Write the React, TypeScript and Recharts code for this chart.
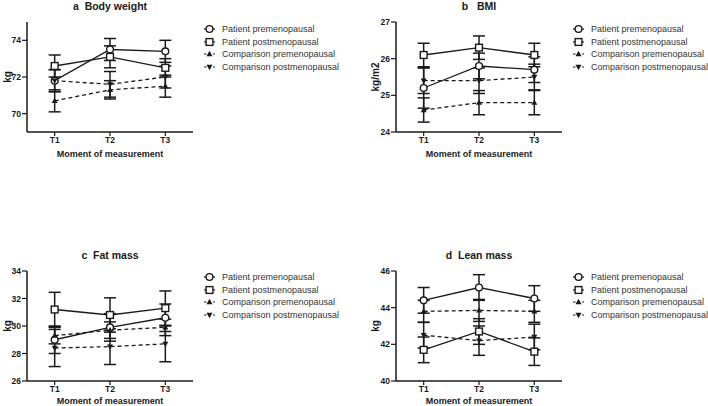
import React from 'react';
import { ComposedChart, Line, ErrorBar, XAxis, YAxis } from 'recharts';

const timepoints = [1, 2, 3];
const tickLabels = ['T1', 'T2', 'T3'];
const seriesNames = [
  'Patient premenopausal',
  'Patient postmenopausal',
  'Comparison premenopausal',
  'Comparison postmenopausal',
];

// a Body weight
const bwPatPre = [71.8, 73.5, 73.4];
const bwPatPreErr = [0.6, 0.6, 0.6];
const bwPatPost = [72.6, 73.1, 72.5];
const bwPatPostErr = [0.6, 0.6, 0.5];
const bwCmpPre = [70.7, 71.3, 71.5];
const bwCmpPreErr = [0.6, 0.5, 0.6];
const bwCmpPost = [71.8, 71.6, 72.0];
const bwCmpPostErr = [0.6, 0.7, 0.6];

// b BMI
const bmiPatPre = [25.2, 25.8, 25.7];
const bmiPatPreErr = [0.55, 0.35, 0.35];
const bmiPatPost = [26.1, 26.3, 26.1];
const bmiPatPostErr = [0.32, 0.32, 0.32];
const bmiCmpPre = [24.6, 24.8, 24.8];
const bmiCmpPreErr = [0.33, 0.33, 0.33];
const bmiCmpPost = [25.4, 25.4, 25.5];
const bmiCmpPostErr = [0.35, 0.35, 0.35];

// c Fat mass
const fmPatPre = [29.0, 29.9, 30.6];
const fmPatPreErr = [1.0, 1.0, 1.0];
const fmPatPost = [31.2, 30.8, 31.3];
const fmPatPostErr = [1.25, 1.25, 1.25];
const fmCmpPre = [29.3, 29.7, 29.9];
const fmCmpPreErr = [0.6, 0.6, 0.6];
const fmCmpPost = [28.4, 28.5, 28.7];
const fmCmpPostErr = [1.35, 1.3, 1.3];

// d Lean mass
const lmPatPre = [44.4, 45.1, 44.5];
const lmPatPreErr = [0.7, 0.7, 0.7];
const lmPatPost = [41.7, 42.7, 41.6];
const lmPatPostErr = [0.7, 0.7, 0.75];
const lmCmpPre = [43.8, 43.85, 43.8];
const lmCmpPreErr = [0.6, 0.6, 0.6];
const lmCmpPost = [42.5, 42.2, 42.4];
const lmCmpPostErr = [0.7, 0.8, 0.7];

const FONT = '"Liberation Sans", Arial, sans-serif';
const INK = '#1a1a1a';

function buildRows(pp, ppe, po, poe, cp, cpe, co, coe) {
  return timepoints.map((t, i) => ({
    t,
    pPre: pp[i], pPreErr: ppe[i],
    pPost: po[i], pPostErr: poe[i],
    cPre: cp[i], cPreErr: cpe[i],
    cPost: co[i], cPostErr: coe[i],
  }));
}

function Marker({ kind, cx, cy }) {
  if (kind === 'circle') {
    return <circle cx={cx} cy={cy} r={3.4} fill="#fff" stroke={INK} strokeWidth={1.4} />;
  }
  if (kind === 'square') {
    return <rect x={cx - 3.4} y={cy - 3.4} width={6.8} height={6.8} fill="#fff" stroke={INK} strokeWidth={1.4} />;
  }
  if (kind === 'up') {
    return <path d={`M${cx},${cy - 3.2} L${cx + 3},${cy + 2.2} L${cx - 3},${cy + 2.2} Z`} fill={INK} />;
  }
  return <path d={`M${cx},${cy + 3.2} L${cx + 3},${cy - 2.2} L${cx - 3},${cy - 2.2} Z`} fill={INK} />;
}

const kinds = ['circle', 'square', 'up', 'down'];
const keys = ['pPre', 'pPost', 'cPre', 'cPost'];

const dotFor = (kind) => (props) => (
  <g key={`${kind}-${props.index}`}>
    <Marker kind={kind} cx={props.cx} cy={props.cy} />
  </g>
);

function LegendBox({ left, top, gap }) {
  return (
    <div style={{ position: 'absolute', left, top, fontFamily: FONT, fontSize: 9, color: '#333' }}>
      {seriesNames.map((name, i) => (
        <div key={name} style={{ display: 'flex', alignItems: 'center', height: 12.5, whiteSpace: 'nowrap' }}>
          <svg width={11} height={10} style={{ marginRight: gap }}>
            <line x1={0} y1={5} x2={11} y2={5} stroke={INK} strokeWidth={1.2} strokeDasharray={i > 1 ? '2.5 2' : undefined} />
            <Marker kind={kinds[i]} cx={5.5} cy={5} />
          </svg>
          <span>{name}</span>
        </div>
      ))}
    </div>
  );
}

function Panel({ left, top, height, xAxisHeight, labelOffset, axisWidth, rightMargin, title, unit, unitOffset, data, domain, ticks, legendLeft, legendGap }) {
  return (
    <div style={{ position: 'absolute', left, top, width: 354, height }}>
      <div style={{ position: 'absolute', left: axisWidth, width: 166, top: 0, textAlign: 'center', fontFamily: FONT, fontSize: 10.5, fontWeight: 'bold', color: INK, whiteSpace: 'pre' }}>
        {title}
      </div>
      <ComposedChart width={354} height={height} data={data} margin={{ top: 22, right: rightMargin, bottom: 0, left: 0 }}>
        <XAxis
          type="number"
          dataKey="t"
          domain={[0.5, 3.5]}
          ticks={timepoints}
          tickFormatter={(v) => tickLabels[v - 1]}
          tickSize={4}
          tickMargin={1}
          height={xAxisHeight}
          axisLine={{ stroke: INK, strokeWidth: 1.5 }}
          tickLine={{ stroke: INK, strokeWidth: 1.2 }}
          tick={{ fill: INK, fontSize: 8.5, fontWeight: 'bold', fontFamily: FONT }}
          label={{ value: 'Moment of measurement', position: 'insideBottom', offset: labelOffset, fill: INK, fontSize: 9, fontWeight: 'bold', fontFamily: FONT }}
        />
        <YAxis
          type="number"
          domain={domain}
          ticks={ticks}
          width={axisWidth}
          tickSize={5}
          tickMargin={1}
          axisLine={{ stroke: INK, strokeWidth: 1.5 }}
          tickLine={{ stroke: INK, strokeWidth: 1.2 }}
          tick={{ fill: INK, fontSize: 8.5, fontWeight: 'bold', fontFamily: FONT }}
          label={{ value: unit, angle: -90, position: 'insideLeft', offset: unitOffset, fill: INK, fontSize: 10, fontWeight: 'bold', fontFamily: FONT, style: { textAnchor: 'middle' } }}
        />
        {keys.map((k, i) => (
          <Line
            key={k}
            type="linear"
            dataKey={k}
            stroke={INK}
            strokeWidth={1.3}
            strokeDasharray={i > 1 ? '4 3' : undefined}
            dot={dotFor(kinds[i])}
            activeDot={false}
            isAnimationActive={false}
          >
            <ErrorBar dataKey={`${k}Err`} width={6} strokeWidth={1.5} stroke={INK} />
          </Line>
        ))}
      </ComposedChart>
      <LegendBox left={legendLeft} top={top === 0 ? 23 : 22} gap={legendGap} />
    </div>
  );
}

export default function App() {
  const bw = buildRows(bwPatPre, bwPatPreErr, bwPatPost, bwPatPostErr, bwCmpPre, bwCmpPreErr, bwCmpPost, bwCmpPostErr);
  const bmi = buildRows(bmiPatPre, bmiPatPreErr, bmiPatPost, bmiPatPostErr, bmiCmpPre, bmiCmpPreErr, bmiCmpPost, bmiCmpPostErr);
  const fm = buildRows(fmPatPre, fmPatPreErr, fmPatPost, fmPatPostErr, fmCmpPre, fmCmpPreErr, fmCmpPost, fmCmpPostErr);
  const lm = buildRows(lmPatPre, lmPatPreErr, lmPatPost, lmPatPostErr, lmCmpPre, lmCmpPreErr, lmCmpPost, lmCmpPostErr);

  return (
    <div style={{ position: 'absolute', left: 0, top: 0, width: 708, height: 406, background: '#fff', overflow: 'hidden' }}>
      <Panel left={0} top={0} height={165} xAxisHeight={33} labelOffset={8} axisWidth={27} rightMargin={161}
        title="a  Body weight" unit="kg" unitOffset={7} data={bw} domain={[69, 75]} ticks={[70, 72, 74]}
        legendLeft={204} legendGap={7} />
      <Panel left={354} top={0} height={165} xAxisHeight={33} labelOffset={8} axisWidth={42} rightMargin={146}
        title="b   BMI" unit="kg/m2" unitOffset={21} data={bmi} domain={[24, 27]} ticks={[24, 25, 26, 27]}
        legendLeft={219} legendGap={7} />
      <Panel left={0} top={249} height={157} xAxisHeight={25} labelOffset={2} axisWidth={27} rightMargin={161}
        title="c  Fat mass" unit="kg" unitOffset={7} data={fm} domain={[26, 34]} ticks={[26, 28, 30, 32, 34]}
        legendLeft={204} legendGap={7} />
      <Panel left={354} top={249} height={157} xAxisHeight={25} labelOffset={2} axisWidth={42} rightMargin={146}
        title="d  Lean mass" unit="kg" unitOffset={21} data={lm} domain={[40, 46]} ticks={[40, 42, 44, 46]}
        legendLeft={219} legendGap={7} />
    </div>
  );
}
